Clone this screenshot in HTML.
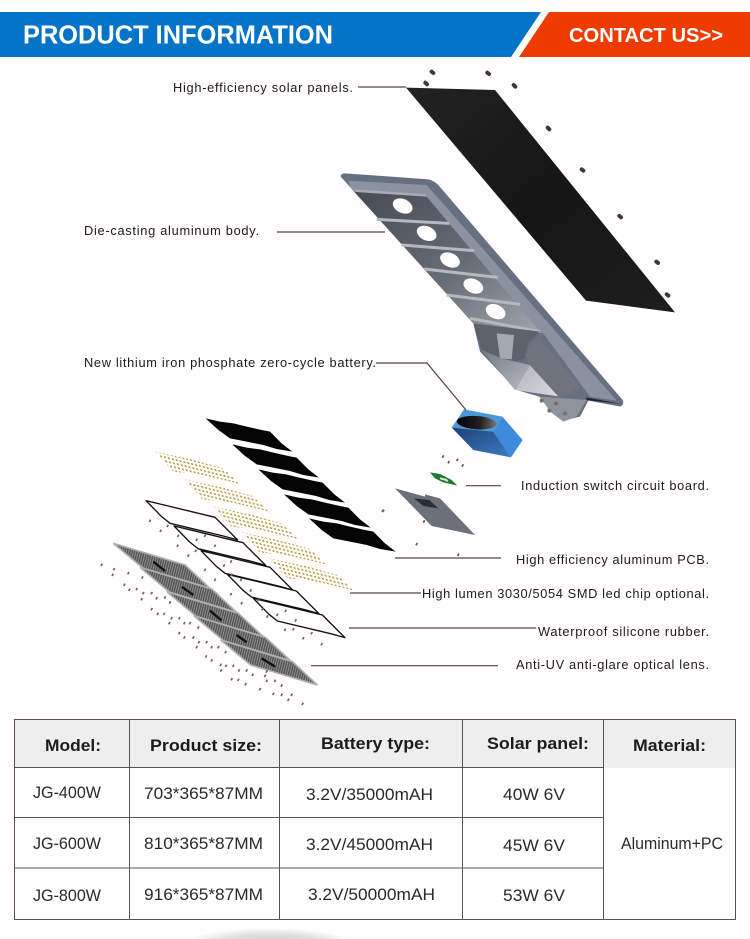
<!DOCTYPE html>
<html><head><meta charset="utf-8"><style>
html,body{margin:0;padding:0;background:#fffdfd}
svg{display:block}
.l{font:12.8px "Liberation Sans",sans-serif;fill:#1c1c1c}
.h{font:bold 17px "Liberation Sans",sans-serif;fill:#1c1c1c}
.c{font:16.5px "Liberation Sans",sans-serif;fill:#2a2a2a}
</style></head><body>
<svg width="750" height="939" viewBox="0 0 750 939" xmlns="http://www.w3.org/2000/svg">
<defs>
<linearGradient id="sol" x1="0" y1="0" x2="1" y2="1"><stop offset="0" stop-color="#222"/><stop offset=".5" stop-color="#161616"/><stop offset="1" stop-color="#1e1e1e"/></linearGradient>
<linearGradient id="pan" x1="0" y1="0" x2="1" y2="1"><stop offset="0" stop-color="#464b54"/><stop offset=".55" stop-color="#666c76"/><stop offset="1" stop-color="#a0a4ac"/></linearGradient>
<linearGradient id="fl" x1="0" y1="0" x2="1" y2="1"><stop offset="0" stop-color="#8b93a0"/><stop offset="1" stop-color="#8a92a0"/></linearGradient>
<linearGradient id="w1" x1="0" y1="0" x2="1" y2="1"><stop offset="0" stop-color="#777b84"/><stop offset="1" stop-color="#b5b8c0"/></linearGradient>
<linearGradient id="w2" x1="0" y1="0" x2="1" y2="1"><stop offset="0" stop-color="#b0b3bb"/><stop offset="1" stop-color="#d8dadf"/></linearGradient>
<linearGradient id="bf" x1="0" y1="0" x2="1" y2="1"><stop offset="0" stop-color="#1f3f70"/><stop offset="1" stop-color="#3a7cc8"/></linearGradient>
<linearGradient id="hole" x1="0" y1="0" x2="1" y2="0"><stop offset="0" stop-color="#000"/><stop offset=".6" stop-color="#222"/><stop offset="1" stop-color="#777"/></linearGradient>
<radialGradient id="sh"><stop offset="0" stop-color="#cfcfcf"/><stop offset=".6" stop-color="#dedede"/><stop offset="1" stop-color="#fffdfd"/></radialGradient>
<pattern id="led" width="12" height="11" patternUnits="userSpaceOnUse" patternTransform="rotate(14) skewX(30)"><rect width="6" height="5" fill="#b39c40"/></pattern>
<pattern id="lens" width="7" height="7" patternUnits="userSpaceOnUse" patternTransform="rotate(14)"><rect width="7" height="7" fill="#929292"/><rect width="4" height="7" fill="#505050"/></pattern>
<path id="fin" d="M347,55 390,65 430,70 470,80 515,90 540,95 575,130 607,155 560,147 520,135 470,125 420,115 385,90Z" fill="#050505"/>
<polygon id="ledp" points="195,155 310,180 400,205 450,252 340,225 250,215" fill="url(#led)"/>
<path id="rub" d="M168,302 210,312 375,352 443,420 400,408 240,370 215,350Z" fill="none" stroke="#111" stroke-width="4" stroke-linejoin="round"/>
<g id="lns"><polygon points="70,430 285,495 360,565 160,505" fill="url(#lens)" stroke="#aeaeae" stroke-width="5"/></g>
</defs>
<rect width="750" height="939" fill="#fffdfd"/>
<polygon points="0,12 541,12 511,57 0,57" fill="#0474c8"/>
<polygon points="549,12 750,12 750,57 519,57" fill="#ee3c00"/>
<text x="23" y="43.5" font-family="Liberation Sans" font-weight="bold" font-size="25.5" fill="#fff" textLength="310" lengthAdjust="spacingAndGlyphs">PRODUCT INFORMATION</text>
<text x="569" y="42" font-family="Liberation Sans" font-weight="bold" font-size="20" fill="#fff" textLength="154" lengthAdjust="spacingAndGlyphs">CONTACT US&gt;&gt;</text>

<g transform="translate(330,60) scale(.33333)">
<polygon points="228,83 495,90 1035,757 768,722" fill="url(#sol)"/>
<path d="M305,35l5,4M472,38l5,4M551,75l5,5M286,68l5,5M653,203l5,5M755,328l5,4M868,468l5,4M979,605l5,4M1010,703l5,4" stroke="#3a3a3a" stroke-width="12" stroke-linecap="round"/>
<path d="M32,350Q32,340 45,340L295,358Q312,362 325,375L878,1020Q884,1030 872,1040L775,1022 750,1070 700,1082 660,1050 628,1010 560,990 450,875 430,790Z" fill="#677080"/>
<path d="M55,362 290,375 860,1022 780,1010 640,820 430,790 60,380Z" fill="url(#fl)"/>
<polygon points="72,395 290,410 630,815 430,790" fill="url(#pan)"/>
<polygon points="72,388 285,402 292,410 78,396" fill="#a7abb3"/>
<g stroke="#b4b8bf" stroke-width="9"><path d="M140,478 358,490M215,555 432,572M283,627 503,652M350,705 570,733M420,775 630,815"/></g>
<g fill="#fffdfd"><ellipse cx="218" cy="438" rx="31" ry="21" transform="rotate(24 218 438)"/><ellipse cx="290" cy="520" rx="31" ry="21" transform="rotate(24 290 520)"/><ellipse cx="360" cy="600" rx="31" ry="21" transform="rotate(24 360 600)"/><ellipse cx="430" cy="678" rx="31" ry="21" transform="rotate(24 430 678)"/><ellipse cx="497" cy="755" rx="31" ry="21" transform="rotate(24 497 755)"/></g>
<g transform="translate(330,720)">
<polygon points="100,70 300,95 265,130 255,175 225,185 185,175 125,150" fill="#5e626b"/>
<polygon points="170,100 222,105 215,178 180,175" fill="#a4a8b0"/>
<polygon points="125,150 185,175 225,185 270,195 225,270" fill="url(#w1)"/>
<polygon points="270,195 360,290 225,270" fill="url(#w2)"/>
<polygon points="295,110 420,260 360,295 265,190 255,165" fill="#6e737e"/>
<polygon points="300,290 440,300 410,350 370,365 330,335" fill="#8f939c"/>
<polygon points="438,292 545,312 440,300" fill="#222"/>
<path d="M348,310h.1M375,340h.1M305,302h.1M328,332h.1" stroke="#77736a" stroke-width="12" stroke-linecap="round"/>
</g>
</g>

<g transform="translate(340,400) scale(.33333)">
<polygon points="372,28 487,50 460,95 335,83" fill="#4a97dc"/>
<polygon points="487,50 548,120 513,172 460,95" fill="#3f8bdb"/>
<polygon points="335,83 460,95 513,172 400,150" fill="url(#bf)"/>
<ellipse cx="410" cy="68" rx="60" ry="20" fill="url(#hole)" transform="rotate(4 410 68)"/>
<polygon points="270,217 300,222 335,240 352,257 310,247 285,235" fill="#1f7a30"/>
<path d="M300,235l20,5M315,238l8,6" stroke="#d8e4d8" stroke-width="6"/>
<polygon points="165,265 255,290 255,283 300,295 405,405 275,378" fill="#6c7078"/>
<polygon points="222,295 268,300 295,325 250,318" fill="#2b2e33"/>
<path d="M128,336l4,-7M250,368l4,-7M228,436l4,-7M353,468l4,-7M307,173l4,-7M324,190l4,-7M350,183l4,-7M366,200l4,-7" stroke="#555" stroke-width="5"/>
</g>

<g transform="translate(90,400) scale(.33333)">
<use href="#fin"/><use href="#fin" x="80" y="78"/><use href="#fin" x="158" y="153"/><use href="#fin" x="235" y="228"/><use href="#fin" x="310" y="300"/>
<use href="#ledp"/><use href="#ledp" x="88" y="83"/><use href="#ledp" x="175" y="165"/><use href="#ledp" x="260" y="242"/><use href="#ledp" x="342" y="320"/>
<use href="#rub"/><use href="#rub" x="84" y="76"/><use href="#rub" x="165" y="150"/><use href="#rub" x="244" y="221"/><use href="#rub" x="322" y="293"/>
<use href="#lns"/><use href="#lns" x="80" y="72"/><use href="#lns" x="160" y="145"/><use href="#lns" x="241" y="217"/><use href="#lns" x="322" y="290"/>
<path d="M190,485l35,28M275,560l35,25M360,632l35,30M440,705l30,22M515,775l40,25" stroke="#111" stroke-width="7"/>
<path d="M33,498l4,-7M70,511l4,-7M66,528l4,-7M113,523l4,-7M155,536l4,-7M101,558l4,-7M116,573l4,-7M138,571l4,-7M158,583l4,-7M153,601l4,-7M183,583l4,-7M198,598l4,-7M223,596l4,-7M238,611l4,-7M183,631l4,-7M201,645l4,-7M220,645l4,-7M243,658l4,-7M236,673l4,-7M266,658l4,-7M281,673l4,-7M298,673l4,-7M323,686l4,-7M266,703l4,-7M281,716l4,-7M308,716l4,-7M325,730l4,-7M318,745l4,-7M348,730l4,-7M363,745l4,-7M383,745l4,-7M405,760l4,-7M346,773l4,-7M363,785l4,-7M390,798l4,-7M406,801l4,-7M391,815l4,-7M428,801l4,-7M445,815l4,-7M468,815l4,-7M486,828l4,-7M423,841l4,-7M443,843l4,-7M465,856l4,-7M528,818l4,-7M508,871l4,-7M528,846l4,-7M553,846l4,-7M573,860l4,-7M548,885l4,-7M573,888l4,-7M603,888l4,-7M593,903l4,-7M636,915l4,-7M523,831l4,-7M178,366l4,-7M210,396l4,-7M231,381l4,-7M263,411l4,-7M318,423l4,-7M261,441l4,-7M293,470l4,-7M315,456l4,-7M343,513l4,-7M373,543l4,-7M400,500l4,-7M423,528l4,-7M343,411l4,-7M373,441l4,-7M421,488l4,-7M451,543l4,-7M421,586l4,-7M453,613l4,-7M480,575l4,-7M503,603l4,-7M515,631l4,-7M530,653l4,-7M560,648l4,-7M585,636l4,-7M615,665l4,-7M583,693l4,-7M608,691l4,-7M638,718l4,-7M663,703l4,-7M693,736l4,-7M876,336l4,-7" stroke="#666" stroke-width="5"/>
</g>

<g fill="none" stroke="#4a4a4a" stroke-width="1.2">
<path d="M358,87H406M277,232H385M376,363H427L466,410M466,485.7H501M395,558H501M350,593H421M349,628H536M311,665.7H498"/>
</g>
<text class="l" x="173" y="92" textLength="180" lengthAdjust="spacing">High-efficiency solar panels.</text>
<text class="l" x="84" y="235" textLength="175" lengthAdjust="spacing">Die-casting aluminum body.</text>
<text class="l" x="84" y="367" textLength="292" lengthAdjust="spacing">New lithium iron phosphate zero-cycle battery.</text>
<text class="l" x="521" y="490" textLength="188" lengthAdjust="spacing">Induction switch circuit board.</text>
<text class="l" x="516" y="564" textLength="193" lengthAdjust="spacing">High efficiency aluminum PCB.</text>
<text class="l" x="422" y="598" textLength="287" lengthAdjust="spacing">High lumen 3030/5054 SMD led chip optional.</text>
<text class="l" x="538" y="636" textLength="171" lengthAdjust="spacing">Waterproof silicone rubber.</text>
<text class="l" x="516" y="669" textLength="193" lengthAdjust="spacing">Anti-UV anti-glare optical lens.</text>

<rect x="15" y="720" width="721" height="199.500" fill="#fff"/>
<rect x="15" y="720" width="721" height="48" fill="#eeeeee"/>
<g fill="none" stroke="#555" stroke-width="1">
<rect x="14.500" y="719.500" width="721" height="200"/>
<path d="M129.500,720V919M279.500,720V919M462.500,720V919M603.500,720V919M15,767.500H604M15,817.500H604M15,868H604"/>
</g>
<text class="h" x="45" y="751" textLength="56" lengthAdjust="spacingAndGlyphs">Model:</text>
<text class="h" x="150" y="751" textLength="112" lengthAdjust="spacingAndGlyphs">Product size:</text>
<text class="h" x="321" y="749" textLength="109" lengthAdjust="spacingAndGlyphs">Battery type:</text>
<text class="h" x="487" y="749" textLength="102" lengthAdjust="spacingAndGlyphs">Solar panel:</text>
<text class="h" x="633" y="751" textLength="73" lengthAdjust="spacingAndGlyphs">Material:</text>
<text class="c" x="33" y="798" textLength="68" lengthAdjust="spacingAndGlyphs">JG-400W</text>
<text class="c" x="144" y="799" textLength="119" lengthAdjust="spacingAndGlyphs">703*365*87MM</text>
<text class="c" x="306" y="800" textLength="127" lengthAdjust="spacingAndGlyphs">3.2V/35000mAH</text>
<text class="c" x="503" y="800" textLength="62" lengthAdjust="spacingAndGlyphs">40W 6V</text>
<text class="c" x="33" y="849" textLength="68" lengthAdjust="spacingAndGlyphs">JG-600W</text>
<text class="c" x="144" y="849" textLength="119" lengthAdjust="spacingAndGlyphs">810*365*87MM</text>
<text class="c" x="306" y="850" textLength="127" lengthAdjust="spacingAndGlyphs">3.2V/45000mAH</text>
<text class="c" x="503" y="851" textLength="62" lengthAdjust="spacingAndGlyphs">45W 6V</text>
<text class="c" x="621" y="849" textLength="102" lengthAdjust="spacingAndGlyphs">Aluminum+PC</text>
<text class="c" x="33" y="901" textLength="68" lengthAdjust="spacingAndGlyphs">JG-800W</text>
<text class="c" x="144" y="900" textLength="119" lengthAdjust="spacingAndGlyphs">916*365*87MM</text>
<text class="c" x="308" y="900" textLength="127" lengthAdjust="spacingAndGlyphs">3.2V/50000mAH</text>
<text class="c" x="503" y="901" textLength="62" lengthAdjust="spacingAndGlyphs">53W 6V</text>
<ellipse cx="270" cy="944" rx="85" ry="16" fill="url(#sh)"/>
</svg>
</body></html>
